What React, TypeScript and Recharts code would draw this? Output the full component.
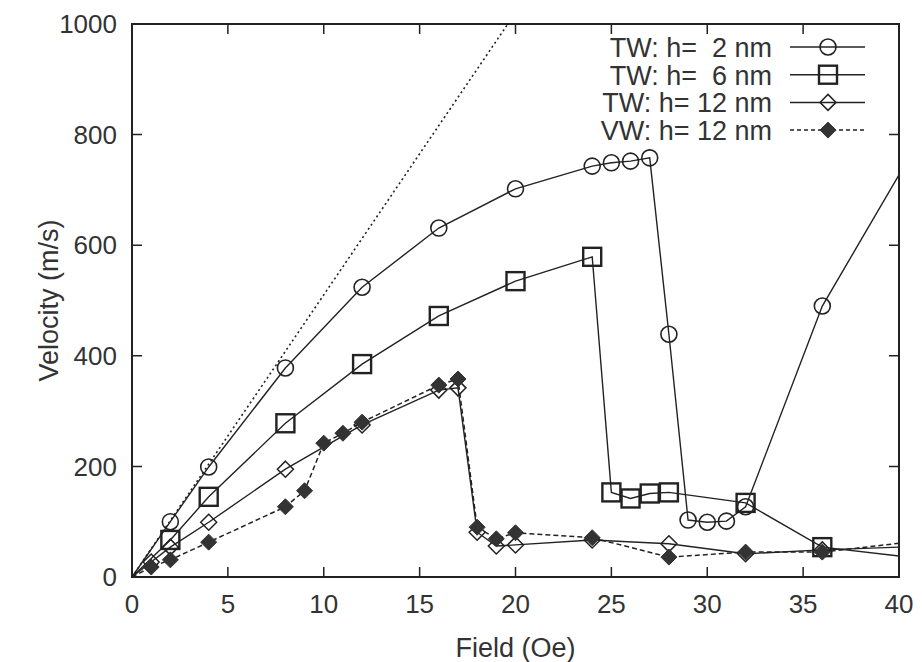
import React from 'react';
import { LineChart, Line, XAxis, YAxis, Legend } from 'recharts';

// axis ticks
const fieldTicks = [0, 5, 10, 15, 20, 25, 30, 35, 40];
const velocityTicks = [0, 200, 400, 600, 800, 1000];

// TW: h = 2 nm (open circles)
const tw2Field = [0, 2, 4, 8, 12, 16, 20, 24, 25, 26, 27, 28, 29, 30, 31, 32, 36, 40];
const tw2Velocity = [0, 100, 199, 378, 524, 631, 702, 743, 749, 752, 758, 439, 103, 99, 101, 127, 490, 727];

// TW: h = 6 nm (open squares)
const tw6Field = [0, 2, 4, 8, 12, 16, 20, 24, 25, 26, 27, 28, 32, 36, 40];
const tw6Velocity = [0, 67, 145, 278, 385, 472, 535, 579, 153, 142, 151, 153, 134, 54, 38];

// TW: h = 12 nm (open diamonds)
const tw12Field = [0, 1, 2, 4, 8, 12, 16, 17, 18, 19, 20, 24, 28, 32, 36, 40];
const tw12Velocity = [0, 27, 54, 99, 195, 275, 338, 342, 81, 56, 58, 67, 60, 42, 49, 54];

// VW: h = 12 nm (filled diamonds, dashed)
const vw12Field = [0, 1, 2, 4, 8, 9, 10, 11, 12, 16, 17, 18, 19, 20, 24, 28, 32, 36, 40];
const vw12Velocity = [0, 18, 31, 63, 127, 156, 242, 260, 280, 347, 358, 90, 69, 80, 71, 36, 45, 45, 61];

// dotted guide line
const guideField = [0, 19.6];
const guideVelocity = [0, 1000];

const seriesLabels = ['TW: h=  2 nm', 'TW: h=  6 nm', 'TW: h= 12 nm', 'VW: h= 12 nm'];

const toRows = (f: number[], v: number[]) => f.map((x, i) => ({ field: x, velocity: v[i] }));

const INK = '#222';
const TEXT = '#333';
const FONT = '"Liberation Sans", Arial, Helvetica, sans-serif';

// chart box
const W = 922;
const H = 662;
const MARGIN = { top: 24, right: 23, left: 0, bottom: 0 };
const Y_AXIS_W = 132;
const X_AXIS_H = 85;
const PLOT_LEFT = MARGIN.left + Y_AXIS_W;
const PLOT_RIGHT = W - MARGIN.right;
const PLOT_TOP = MARGIN.top;
const PLOT_BOTTOM = H - MARGIN.bottom - X_AXIS_H;
const TICK = 10;

// x tick: label plus inward marks on bottom and top
const FieldTick = (p: any) => {
  const { x, y, payload } = p;
  const v = payload.value;
  const inner = v !== fieldTicks[0] && v !== fieldTicks[fieldTicks.length - 1];
  return (
    <g>
      {inner && (
        <path
          d={`M${x},${PLOT_BOTTOM}V${PLOT_BOTTOM - TICK}M${x},${PLOT_TOP}V${PLOT_TOP + TICK}`}
          stroke={INK}
          strokeWidth={1.5}
          fill="none"
        />
      )}
      <text x={x} y={y} dy="0.71em" textAnchor="middle" fill={TEXT} fontSize={26} fontFamily={FONT}>
        {v}
      </text>
    </g>
  );
};

// y tick: label plus inward marks on left and right
const VelocityTick = (p: any) => {
  const { x, y, payload } = p;
  const v = payload.value;
  const inner = v !== velocityTicks[0] && v !== velocityTicks[velocityTicks.length - 1];
  return (
    <g>
      {inner && (
        <path
          d={`M${PLOT_LEFT},${y}H${PLOT_LEFT + TICK}M${PLOT_RIGHT},${y}H${PLOT_RIGHT - TICK}`}
          stroke={INK}
          strokeWidth={1.5}
          fill="none"
        />
      )}
      <text x={x} y={y} dy="0.355em" textAnchor="end" fill={TEXT} fontSize={26} fontFamily={FONT}>
        {v}
      </text>
    </g>
  );
};

const circleMark = (cx: number, cy: number, key?: any) => (
  <circle key={key} cx={cx} cy={cy} r={8} fill="none" stroke={INK} strokeWidth={1.6} />
);
const squareMark = (cx: number, cy: number, key?: any) => (
  <rect key={key} x={cx - 9} y={cy - 9} width={18} height={18} fill="none" stroke={INK} strokeWidth={2.4} />
);
const diamondMark = (cx: number, cy: number, key?: any) => (
  <polygon
    key={key}
    points={`${cx},${cy - 8} ${cx + 8},${cy} ${cx},${cy + 8} ${cx - 8},${cy}`}
    fill="none"
    stroke={INK}
    strokeWidth={1.5}
  />
);
const filledMark = (cx: number, cy: number, key?: any) => (
  <polygon
    key={key}
    points={`${cx},${cy - 8} ${cx + 8},${cy} ${cx},${cy + 8} ${cx - 8},${cy}`}
    fill="#333"
    stroke="#333"
    strokeWidth={1}
  />
);

// markers are not drawn on the frame (origin and x = 40)
const makeDot = (mark: (cx: number, cy: number, key?: any) => React.ReactElement) => (p: any) => {
  const k = `dot-${p.index}`;
  if (p.payload.field === 0 || p.payload.field === 40) return <g key={k} />;
  return mark(p.cx, p.cy, k);
};

const legendMarks = [circleMark, squareMark, diamondMark, filledMark];

const renderLegend = () => (
  <svg width={340} height={130} style={{ fontFamily: FONT }}>
    {seriesLabels.map((label, i) => {
      const base = 37 + i * 27.7;
      const y = base - 10;
      return (
        <g key={label}>
          <text x={212} y={base} textAnchor="end" fontSize={27} fill={TEXT} style={{ whiteSpace: 'pre' }}>
            {label}
          </text>
          <line
            x1={230}
            x2={305}
            y1={y}
            y2={y}
            stroke={INK}
            strokeWidth={1.5}
            strokeDasharray={i === 3 ? '4 3' : undefined}
          />
          {legendMarks[i](268, y)}
        </g>
      );
    })}
  </svg>
);

const App: React.FC = () => {
  return (
    <div style={{ position: 'absolute', left: 0, top: 0, width: W, height: H, background: '#fff', fontFamily: FONT }}>
      <LineChart width={W} height={H} margin={MARGIN}>
        <XAxis
          xAxisId="x"
          dataKey="field"
          type="number"
          domain={[0, 40]}
          ticks={fieldTicks}
          interval={0}
          height={X_AXIS_H}
          tickSize={0}
          tickMargin={18}
          axisLine={{ stroke: INK, strokeWidth: 2 }}
          tickLine={false}
          tick={FieldTick}
          label={{ value: 'Field (Oe)', position: 'center', dy: 28, fill: TEXT, fontSize: 27, fontFamily: FONT }}
        />
        <YAxis
          yAxisId="y"
          type="number"
          domain={[0, 1000]}
          ticks={velocityTicks}
          interval={0}
          width={Y_AXIS_W}
          tickSize={0}
          tickMargin={15}
          axisLine={{ stroke: INK, strokeWidth: 2 }}
          tickLine={false}
          tick={VelocityTick}
          label={{ value: 'Velocity (m/s)', angle: -90, position: 'center', dx: -18, fill: TEXT, fontSize: 27, fontFamily: FONT }}
        />
        <Legend
          layout="vertical"
          align="center"
          verticalAlign="middle"
          content={renderLegend}
          wrapperStyle={{ position: 'absolute', left: 560, top: 20, width: 340, height: 130 }}
        />
        <Line
          xAxisId="x"
          yAxisId="y"
          data={toRows(guideField, guideVelocity)}
          dataKey="velocity"
          type="linear"
          stroke={INK}
          strokeWidth={1.6}
          strokeDasharray="2 3"
          dot={false}
          activeDot={false}
          legendType="none"
          isAnimationActive={false}
        />
        <Line
          xAxisId="x"
          yAxisId="y"
          data={toRows(tw2Field, tw2Velocity)}
          dataKey="velocity"
          name={seriesLabels[0]}
          type="linear"
          stroke={INK}
          strokeWidth={1.4}
          dot={makeDot(circleMark)}
          activeDot={false}
          isAnimationActive={false}
        />
        <Line
          xAxisId="x"
          yAxisId="y"
          data={toRows(tw6Field, tw6Velocity)}
          dataKey="velocity"
          name={seriesLabels[1]}
          type="linear"
          stroke={INK}
          strokeWidth={1.4}
          dot={makeDot(squareMark)}
          activeDot={false}
          isAnimationActive={false}
        />
        <Line
          xAxisId="x"
          yAxisId="y"
          data={toRows(tw12Field, tw12Velocity)}
          dataKey="velocity"
          name={seriesLabels[2]}
          type="linear"
          stroke={INK}
          strokeWidth={1.4}
          dot={makeDot(diamondMark)}
          activeDot={false}
          isAnimationActive={false}
        />
        <Line
          xAxisId="x"
          yAxisId="y"
          data={toRows(vw12Field, vw12Velocity)}
          dataKey="velocity"
          name={seriesLabels[3]}
          type="linear"
          stroke={INK}
          strokeWidth={1.5}
          strokeDasharray="5 3"
          dot={makeDot(filledMark)}
          activeDot={false}
          isAnimationActive={false}
        />
      </LineChart>
      {/* plot frame */}
      <div
        style={{
          position: 'absolute',
          left: PLOT_LEFT - 1,
          top: PLOT_TOP - 1,
          width: PLOT_RIGHT - PLOT_LEFT + 2,
          height: PLOT_BOTTOM - PLOT_TOP + 2,
          border: `2px solid ${INK}`,
          boxSizing: 'border-box',
          pointerEvents: 'none',
        }}
      />
    </div>
  );
};

export default App;
